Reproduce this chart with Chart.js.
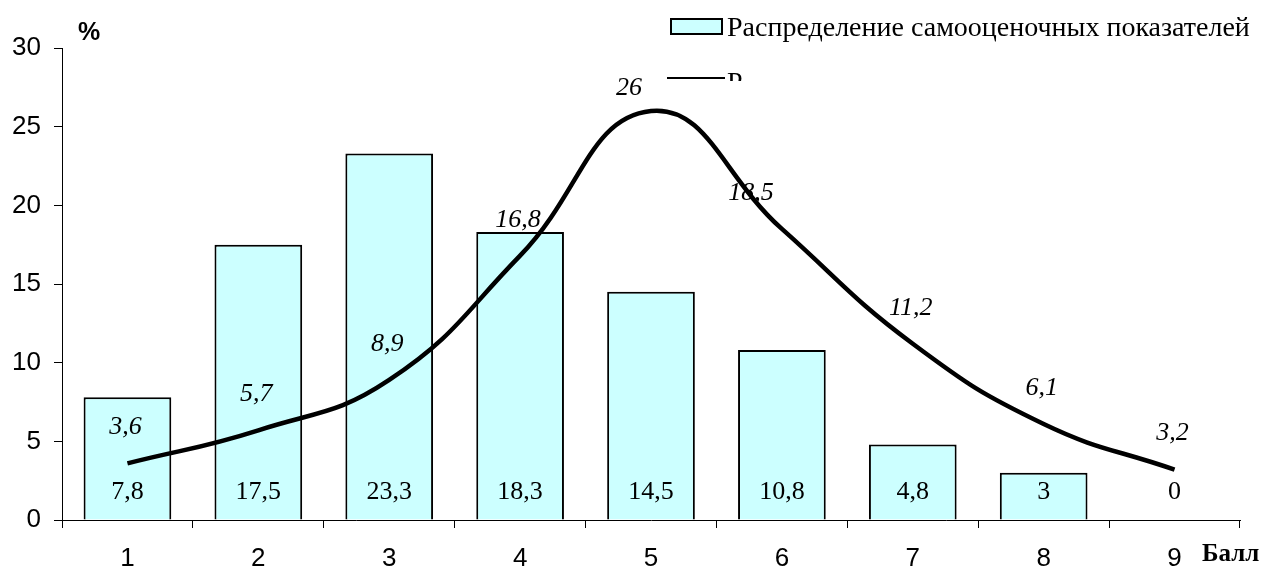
<!DOCTYPE html>
<html>
<head>
<meta charset="utf-8">
<script src="https://cdn.jsdelivr.net/npm/chart.js@4"></script>
<style>
  html, body { margin: 0; padding: 0; background: #fff; }
  #wrap { position: relative; width: 1266px; height: 572px; overflow: hidden; }
  .abs { position: absolute; white-space: nowrap; color: #000; }
  .serif { font-family: "Liberation Serif", "Times New Roman", serif; }
  #legBox { left: 670px; top: 18px; width: 49px; height: 13px; background: #ccffff; border: 2px solid #000; }
  #legText { left: 727px; top: 11px; font-size: 28px; line-height: 32px; }
  #legLine { left: 667px; top: 77px; width: 58px; height: 0; border-top: 2px solid #000; }
  #legClip { left: 727px; top: 66px; height: 15px; overflow: hidden; font-size: 28px; line-height: 32px; }
  #pct { left: 78px; top: 19px; font: bold 25px/25px "Liberation Sans", Arial, sans-serif; }
  #ball { left: 1202px; top: 539px; font-weight: bold; font-size: 25px; line-height: 27px; }
</style>
</head>
<body>
<div id="wrap">
  <canvas id="chart" width="1266" height="572"></canvas>
  <div id="pct" class="abs">%</div>
  <div id="ball" class="abs serif">Балл</div>
  <div id="legBox" class="abs"></div>
  <div id="legText" class="abs serif">Распределение самооценочных показателей</div>
  <div id="legLine" class="abs"></div>
  <div id="legClip" class="abs serif">Р</div>
</div>
<script>
// ─── данные ───
const categories = ['1', '2', '3', '4', '5', '6', '7', '8', '9'];
const barValues  = [7.8, 17.5, 23.3, 18.3, 14.5, 10.8, 4.8, 3, 0];
const lineValues = [3.6, 5.7, 8.9, 16.8, 26, 18.5, 11.2, 6.1, 3.2];
const yTicks     = [0, 5, 10, 15, 20, 25, 30];

// сдвиг отдельных подписей линии (dx, dy от точки)
const labelShift = { 4: [-22, -23], 5: [-31, -36] };

function fmt(v) { return String(v).replace('.', ','); }

// подписи значений
const valueLabels = {
    id: 'valueLabels',
    afterDatasetsDraw(chart) {
        const ctx = chart.ctx;
        const y0 = chart.scales.y.getPixelForValue(0);
        ctx.save();
        ctx.fillStyle = '#000';
        ctx.textAlign = 'center';
        ctx.textBaseline = 'middle';

        // столбцы — у основания
        ctx.font = '26px "Liberation Serif", serif';
        chart.getDatasetMeta(1).data.forEach(function (el, i) {
            ctx.fillText(fmt(barValues[i]), el.x, y0 - 28);
        });

        // линия — над точками
        ctx.font = 'italic 26px "Liberation Serif", serif';
        chart.getDatasetMeta(0).data.forEach(function (el, i) {
            const s = labelShift[i] || [-2, -36];
            ctx.fillText(fmt(lineValues[i]), el.x + s[0], el.y + s[1]);
        });
        ctx.restore();
    }
};

new Chart(document.getElementById('chart'), {
    type: 'bar',
    data: {
        labels: categories,
        datasets: [
            {
                type: 'line',
                label: 'Р',
                data: lineValues,
                borderColor: '#000',
                borderWidth: 4.5,
                pointRadius: 0,
                tension: 0.45,
                fill: false,
                order: 0
            },
            {
                label: 'Распределение самооценочных показателей',
                data: barValues,
                backgroundColor: '#ccffff',
                borderColor: '#000',
                borderWidth: 2,
                categoryPercentage: 0.67,
                barPercentage: 1,
                order: 1
            }
        ]
    },
    plugins: [valueLabels],
    options: {
        responsive: false,
        animation: false,
        layout: { padding: { top: 48, right: 26, left: 0, bottom: 0 } },
        plugins: {
            legend: { display: false },
            tooltip: { enabled: false }
        },
        scales: {
            x: {
                offset: true,
                grid: { offset: true, drawOnChartArea: false, drawTicks: true, tickLength: 8, color: '#000' },
                border: { display: true, color: '#000', width: 1 },
                ticks: { color: '#000', padding: 15, font: { family: '"Liberation Sans", Arial, sans-serif', size: 26 } },
                afterFit: function (s) { s.height = 52; }
            },
            y: {
                min: 0,
                max: 30,
                afterBuildTicks: function (s) { s.ticks = yTicks.map(function (v) { return { value: v }; }); },
                grid: { drawOnChartArea: false, drawTicks: true, tickLength: 8, color: '#000' },
                border: { display: true, color: '#000', width: 1 },
                ticks: { color: '#000', padding: 13, font: { family: '"Liberation Sans", Arial, sans-serif', size: 26 } },
                afterFit: function (s) { s.width = 62; }
            }
        }
    }
});
</script>
</body>
</html>
